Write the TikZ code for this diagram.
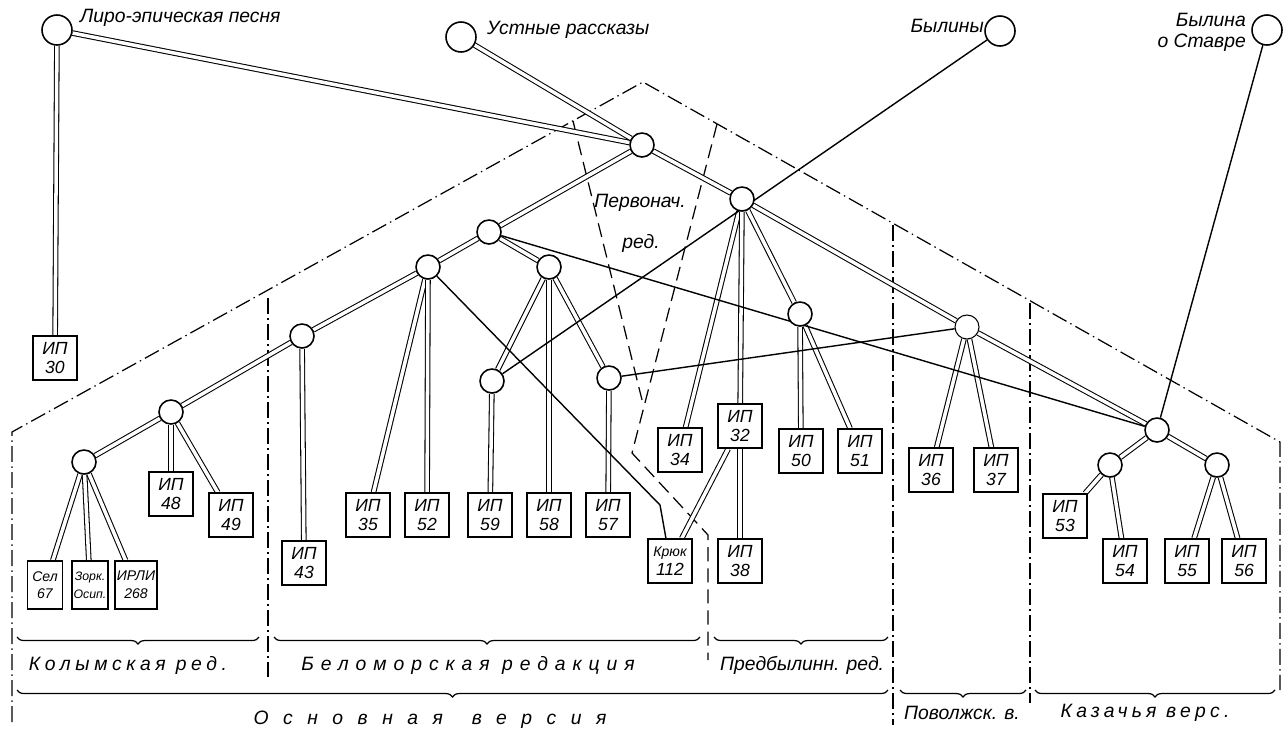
\documentclass[tikz,border=0pt]{standalone}
\usepackage{fontspec}
\setmainfont{Liberation Sans}
\usetikzlibrary{positioning,backgrounds,decorations.pathreplacing}

% letter-spaced caption
\newcommand{\spc}[2]{{\addfontfeature{LetterSpace=#1}#2}}

\begin{document}
\begin{tikzpicture}[x=0.02cm,y=-0.02cm,
    font=\itshape\fontsize{11}{12}\selectfont,
    src/.style={draw,circle,line width=0.9pt,minimum size=0.6cm,inner sep=0pt,fill=white},
    hub/.style={draw,circle,line width=0.9pt,minimum size=0.48cm,inner sep=0pt,fill=white},
    ms/.style={draw,rectangle,line width=0.8pt,fill=white,minimum width=0.88cm,minimum height=0.88cm,inner sep=1pt,align=center,font=\itshape\fontsize{10}{11}\selectfont},
    msn/.style={ms,minimum width=0.7cm,minimum height=0.96cm,font=\itshape\fontsize{8}{10}\selectfont},
    tie/.style={double,double distance=2pt,line width=0.6pt},
    cont/.style={line width=0.8pt},
    rim/.style={line width=0.7pt,dash pattern=on 9pt off 2.5pt on 0.8pt off 2.5pt},
    seam/.style={line width=0.7pt,dash pattern=on 8pt off 4pt},
    brc/.style={line width=0.7pt,decorate,decoration={brace,mirror,amplitude=4pt}}]
    \useasboundingbox (0,0) rectangle (1283,728);

    % sources
    \node[src] (lir) at (57,30) {};
    \node[src] (ust) at (461,37) {};
    \node[src] (byl) at (1000,31) {};
    \node[src] (stav) at (1267,30) {};
    \node[anchor=west] (tlir) at (74,18) {Лиро-эпическая песня};
    \node[anchor=west] (tust) at (481,30) {Устные рассказы};
    \node[anchor=east] (tbyl) at (990,26) {Былины};
    \node[anchor=east,align=right] (tstav) at (1252,32) {Былина\\о Ставре};

    % hyparchetypes
    \node[hub] (a) at (642,145) {};
    \node[hub] (p) at (742,199) {};
    \node[hub] (c) at (489,232) {};
    \node[hub] (g) at (428,267) {};
    \node[hub] (h) at (549,267) {};
    \node[hub] (d) at (302,336) {};
    \node[hub] (e) at (171,412) {};
    \node[hub] (f) at (84,462) {};
    \node[hub] (i) at (492,381) {};
    \node[hub] (j) at (609,378) {};
    \node[hub] (k) at (800,314) {};
    \node[hub,line width=0.6pt] (m) at (967,327) {};
    \node[hub] (n) at (1157,430) {};
    \node[hub] (n1) at (1110,465) {};
    \node[hub] (n2) at (1217,465) {};

    \node (tper) at (640,203) {Первонач.};
    \node (tred) at (641,243) {ред.};

    % manuscripts
    \node[ms] (ip30) at (55,358) {ИП\\30};
    \node[ms] (ip48) at (171,494) {ИП\\48};
    \node[ms] (ip49) at (231,515) {ИП\\49};
    \node[msn] (sel) at (45,585) {Сел\\67};
    \node[msn,font=\itshape\fontsize{7}{10}\selectfont] (zork) at (90,585) {Зорк.\\Осип.};
    \node[msn] (irli) at (136,585) {ИРЛИ\\268};
    \node[ms] (ip43) at (304,563) {ИП\\43};
    \node[ms] (ip35) at (368,515) {ИП\\35};
    \node[ms] (ip52) at (427,515) {ИП\\52};
    \node[ms] (ip59) at (490,515) {ИП\\59};
    \node[ms] (ip58) at (549,515) {ИП\\58};
    \node[ms] (ip57) at (608,515) {ИП\\57};
    \node[ms] (kr) at (670,561) {{\fontsize{8}{9}\selectfont Крюк}\\112};
    \node[ms] (ip34) at (680,450) {ИП\\34};
    \node[ms] (ip32) at (740,426) {ИП\\32};
    \node[ms] (ip38) at (740,561) {ИП\\38};
    \node[ms] (ip50) at (801,451) {ИП\\50};
    \node[ms] (ip51) at (860,451) {ИП\\51};
    \node[ms] (ip36) at (931,470) {ИП\\36};
    \node[ms] (ip37) at (996,470) {ИП\\37};
    \node[ms] (ip53) at (1065,516) {ИП\\53};
    \node[ms] (ip54) at (1125,561) {ИП\\54};
    \node[ms] (ip55) at (1187,561) {ИП\\55};
    \node[ms] (ip56) at (1244,561) {ИП\\56};

    \coordinate (kbend) at (660,505);

    \begin{scope}[on background layer]
        % version and redaction borders
        \draw[rim] (12,722) -- (12,432) -- (643,82) -- (1280,442) -- (1280,690);
        \draw[rim] (268,298) -- (268,677);
        \draw[rim] (893,225) -- (893,725);
        \draw[rim] (1030,303) -- (1030,703);
        \draw[seam] (573,121) -- (642,400);
        \draw[seam] (717,124) -- (632,453) -- (708,535) -- (708,660);

        % filiation
        \draw[tie] (lir) -- (a);
        \draw[tie] (lir) -- (ip30);
        \draw[tie] (ust) -- (a);
        \draw[tie] (a) -- (c);
        \draw[tie] (a) -- (p);
        \draw[tie] (c) -- (g);
        \draw[tie] (g) -- (d);
        \draw[tie] (c) -- (h);
        \draw[tie] (d) -- (e);
        \draw[tie] (d) -- (ip43);
        \draw[tie] (e) -- (f);
        \draw[tie] (e) -- (ip48);
        \draw[tie] (e) -- (ip49);
        \draw[tie] (f) -- (sel);
        \draw[tie] (f) -- (zork);
        \draw[tie] (f) -- (irli);
        \draw[tie] (g) -- (ip35);
        \draw[tie] (g) -- (ip52);
        \draw[tie] (h) -- (i);
        \draw[tie] (h) -- (ip58);
        \draw[tie] (h) -- (j);
        \draw[tie] (i) -- (ip59);
        \draw[tie] (j) -- (ip57);
        \draw[tie] (p) -- (ip34);
        \draw[tie] (p) -- (ip32);
        \draw[tie] (ip32) -- (ip38);
        \draw[tie] (ip32) -- (kr);
        \draw[tie] (p) -- (k);
        \draw[tie] (k) -- (ip50);
        \draw[tie] (k) -- (ip51);
        \draw[tie] (p) -- (m);
        \draw[tie] (m) -- (n);
        \draw[tie] (m) -- (ip36);
        \draw[tie] (m) -- (ip37);
        \draw[tie] (n) -- (n1);
        \draw[tie] (n) -- (n2);
        \draw[tie] (n1) -- (ip53);
        \draw[tie] (n1) -- (ip54);
        \draw[tie] (n2) -- (ip55);
        \draw[tie] (n2) -- (ip56);

        % contamination
        \draw[cont] (byl) -- (i);
        \draw[cont] (stav) -- (n);
        \draw[cont] (c) -- (n);
        \draw[cont] (j) -- (m);
        \draw[cont] (g) -- (kbend) -- (kr);
    \end{scope}

    % braces
    \draw[brc] (17,637) -- (259,637);
    \draw[brc] (274,637) -- (700,637);
    \draw[brc] (714,637) -- (888,637);
    \draw[brc] (17,690) -- (888,690);
    \draw[brc] (900,690) -- (1026,690);
    \draw[brc] (1035,690) -- (1275,690);

    \node (tkol) at (128,665) {\spc{24}{Колымская ред.}};
    \node (tbel) at (468,665) {\spc{36}{Беломорская редакция}};
    \node[anchor=west] (tpre) at (714,665) {Предбылинн. ред.};
    \node (tosn) at (430,720) {\spc{75}{Основная\hspace{1.5em}версия}};
    \node (tpov) at (962,713) {Поволжск. в.};
    \node (tkaz) at (1145,713) {\spc{22}{Казачья верс.}};
\end{tikzpicture}
\end{document}
